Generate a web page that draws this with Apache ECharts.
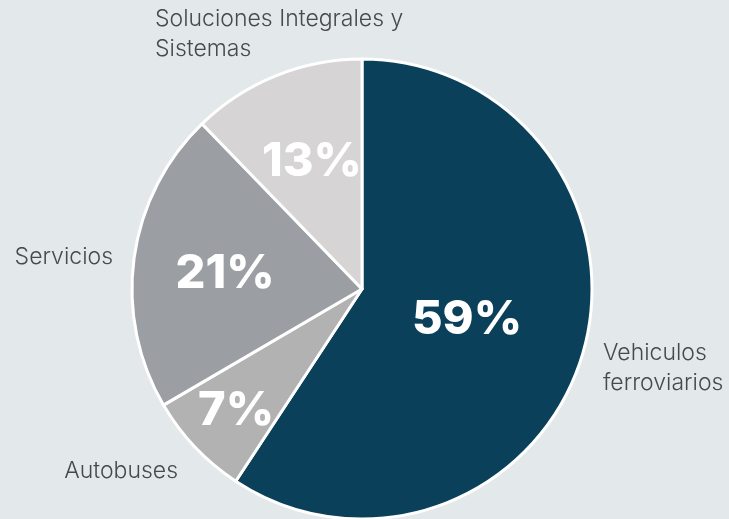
<!DOCTYPE html>
<html><head><meta charset="utf-8">
<script src="https://cdn.jsdelivr.net/npm/echarts@6/dist/echarts.min.js"></script>
<style>html,body{margin:0;padding:0;background:#e3e8ea}#c{width:729px;height:519px}</style>
</head><body><div id="c"></div>
<script>
const categories = ['Vehiculos\nferroviarios', 'Autobuses', 'Servicios', 'Soluciones Integrales y\nSistemas'];
// slice sizes
const shares = [59.25, 7.33, 21.17, 12.25];
// percentages as printed on the slices
const pctLabels = ['59%', '7%', '21%', '13%'];
const colors = ['#0a4059', '#b2b2b2', '#9b9ea2', '#d6d4d5'];

// label placement (layout only)
const pctPos = [[467, 320], [236, 411], [225, 274], [312, 162]];
const namePos = [[603, 368, 'left'], [178, 471, 'right'], [113, 257, 'right'], [155, 34, 'left']];

const data = categories.map((n, i) => ({ name: n, value: shares[i], itemStyle: { color: colors[i] } }));
const ghost = categories.map((n, i) => ({ name: n, value: shares[i] }));

const chart = echarts.init(document.getElementById('c'), null, { renderer: 'canvas' });
chart.setOption({
  backgroundColor: '#e3e8ea',
  animation: false,
  series: [
    {
      type: 'pie', center: [362, 289], radius: [0, 230], startAngle: 90, clockwise: true,
      data: data,
      itemStyle: { borderColor: '#ffffff', borderWidth: 3 },
      label: { show: true, position: 'inside', formatter: p => pctLabels[p.dataIndex], color: '#ffffff',
               fontFamily: 'Inter', fontWeight: 800, fontSize: 47 },
      labelLine: { show: false },
      labelLayout: p => ({ x: pctPos[p.dataIndex][0], y: pctPos[p.dataIndex][1], align: 'center', verticalAlign: 'middle' }),
      emphasis: { disabled: true }
    },
    {
      type: 'pie', center: [362, 289], radius: [0, 230], startAngle: 90, clockwise: true, silent: true,
      data: ghost,
      itemStyle: { color: 'rgba(0,0,0,0)', borderWidth: 0 },
      label: { show: true, position: 'inside', formatter: '{b}', color: '#474a4d', overflow: 'none',
               fontFamily: 'Inter', fontWeight: 300, fontSize: 23, lineHeight: 30 },
      labelLine: { show: false },
      labelLayout: p => ({ x: namePos[p.dataIndex][0], y: namePos[p.dataIndex][1], align: namePos[p.dataIndex][2], verticalAlign: 'middle' }),
      emphasis: { disabled: true }
    }
  ]
});
</script></body></html>
